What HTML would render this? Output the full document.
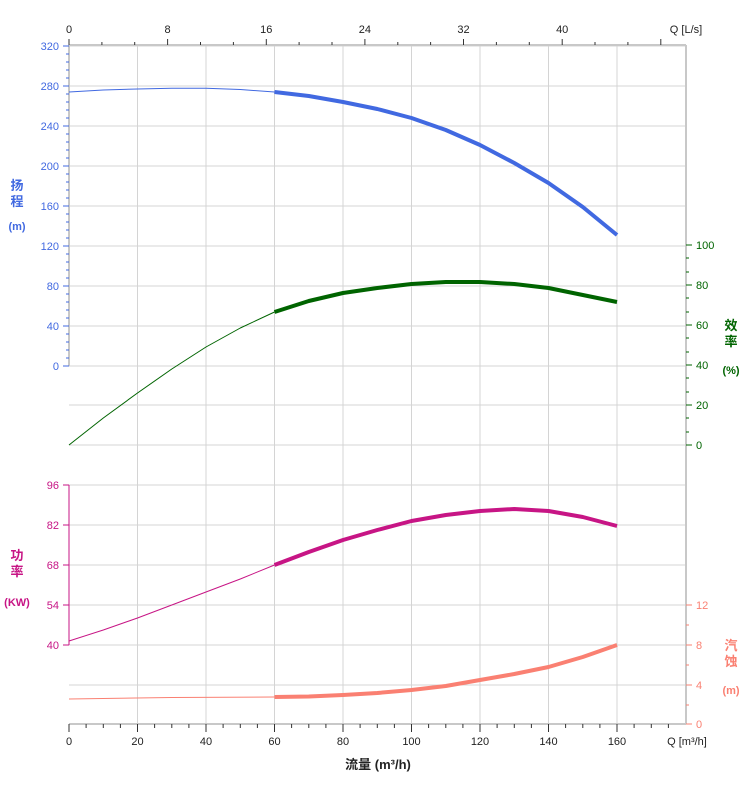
<!DOCTYPE html>
<html><head><meta charset="utf-8"><style>
body{margin:0;background:#fff;width:752px;height:797px;overflow:hidden}
svg{display:block;font-family:"Liberation Sans","Noto Sans CJK SC",sans-serif}
</style></head><body>
<svg width="752" height="797" viewBox="0 0 752 797">
<g stroke="#d4d4d4" stroke-width="1">
<line x1="69" y1="46" x2="686" y2="46"/><line x1="69" y1="86" x2="686" y2="86"/><line x1="69" y1="126" x2="686" y2="126"/><line x1="69" y1="166" x2="686" y2="166"/><line x1="69" y1="206" x2="686" y2="206"/><line x1="69" y1="246" x2="686" y2="246"/><line x1="69" y1="286" x2="686" y2="286"/><line x1="69" y1="326" x2="686" y2="326"/><line x1="69" y1="366" x2="686" y2="366"/><line x1="69" y1="405" x2="686" y2="405"/><line x1="69" y1="445" x2="686" y2="445"/><line x1="69" y1="485" x2="686" y2="485"/><line x1="69" y1="525" x2="686" y2="525"/><line x1="69" y1="565" x2="686" y2="565"/><line x1="69" y1="605" x2="686" y2="605"/><line x1="69" y1="645" x2="686" y2="645"/><line x1="69" y1="685" x2="686" y2="685"/>
<line x1="137.5" y1="46" x2="137.5" y2="724"/><line x1="206" y1="46" x2="206" y2="724"/><line x1="274.5" y1="46" x2="274.5" y2="724"/><line x1="343" y1="46" x2="343" y2="724"/><line x1="411.5" y1="46" x2="411.5" y2="724"/><line x1="480" y1="46" x2="480" y2="724"/><line x1="548.5" y1="46" x2="548.5" y2="724"/><line x1="617" y1="46" x2="617" y2="724"/>
</g>
<g stroke="#c8c8c8" stroke-width="2"><line x1="69" y1="45" x2="686" y2="45"/><line x1="686" y1="45" x2="686" y2="724"/><line x1="69" y1="724" x2="686" y2="724"/></g>
<g stroke="#333" stroke-width="1">
<line x1="69" y1="39" x2="69" y2="45"/><line x1="101.9" y1="42" x2="101.9" y2="45"/><line x1="134.7" y1="42" x2="134.7" y2="45"/><line x1="167.6" y1="39" x2="167.6" y2="45"/><line x1="200.5" y1="42" x2="200.5" y2="45"/><line x1="233.4" y1="42" x2="233.4" y2="45"/><line x1="266.3" y1="39" x2="266.3" y2="45"/><line x1="299.1" y1="42" x2="299.1" y2="45"/><line x1="332" y1="42" x2="332" y2="45"/><line x1="364.9" y1="39" x2="364.9" y2="45"/><line x1="397.8" y1="42" x2="397.8" y2="45"/><line x1="430.6" y1="42" x2="430.6" y2="45"/><line x1="463.5" y1="39" x2="463.5" y2="45"/><line x1="496.4" y1="42" x2="496.4" y2="45"/><line x1="529.3" y1="42" x2="529.3" y2="45"/><line x1="562.2" y1="39" x2="562.2" y2="45"/><line x1="595" y1="42" x2="595" y2="45"/><line x1="627.9" y1="42" x2="627.9" y2="45"/><line x1="660.8" y1="39" x2="660.8" y2="45"/>
</g>
<g font-size="11" fill="#222" text-anchor="middle"><text x="69" y="33">0</text><text x="167.6" y="33">8</text><text x="266.3" y="33">16</text><text x="364.9" y="33">24</text><text x="463.5" y="33">32</text><text x="562.2" y="33">40</text><text x="686" y="33">Q [L/s]</text></g>
<g stroke="#333" stroke-width="1">
<line x1="69" y1="724" x2="69" y2="732"/><line x1="86.1" y1="724" x2="86.1" y2="728"/><line x1="103.3" y1="724" x2="103.3" y2="728"/><line x1="120.4" y1="724" x2="120.4" y2="728"/><line x1="137.5" y1="724" x2="137.5" y2="732"/><line x1="154.6" y1="724" x2="154.6" y2="728"/><line x1="171.8" y1="724" x2="171.8" y2="728"/><line x1="188.9" y1="724" x2="188.9" y2="728"/><line x1="206" y1="724" x2="206" y2="732"/><line x1="223.1" y1="724" x2="223.1" y2="728"/><line x1="240.3" y1="724" x2="240.3" y2="728"/><line x1="257.4" y1="724" x2="257.4" y2="728"/><line x1="274.5" y1="724" x2="274.5" y2="732"/><line x1="291.6" y1="724" x2="291.6" y2="728"/><line x1="308.8" y1="724" x2="308.8" y2="728"/><line x1="325.9" y1="724" x2="325.9" y2="728"/><line x1="343" y1="724" x2="343" y2="732"/><line x1="360.1" y1="724" x2="360.1" y2="728"/><line x1="377.3" y1="724" x2="377.3" y2="728"/><line x1="394.4" y1="724" x2="394.4" y2="728"/><line x1="411.5" y1="724" x2="411.5" y2="732"/><line x1="428.6" y1="724" x2="428.6" y2="728"/><line x1="445.8" y1="724" x2="445.8" y2="728"/><line x1="462.9" y1="724" x2="462.9" y2="728"/><line x1="480" y1="724" x2="480" y2="732"/><line x1="497.1" y1="724" x2="497.1" y2="728"/><line x1="514.3" y1="724" x2="514.3" y2="728"/><line x1="531.4" y1="724" x2="531.4" y2="728"/><line x1="548.5" y1="724" x2="548.5" y2="732"/><line x1="565.6" y1="724" x2="565.6" y2="728"/><line x1="582.8" y1="724" x2="582.8" y2="728"/><line x1="599.9" y1="724" x2="599.9" y2="728"/><line x1="617" y1="724" x2="617" y2="732"/><line x1="634.1" y1="724" x2="634.1" y2="728"/><line x1="651.3" y1="724" x2="651.3" y2="728"/><line x1="668.4" y1="724" x2="668.4" y2="728"/>
</g>
<g font-size="11" fill="#222" text-anchor="middle"><text x="69" y="745">0</text><text x="137.5" y="745">20</text><text x="206" y="745">40</text><text x="274.5" y="745">60</text><text x="343" y="745">80</text><text x="411.5" y="745">100</text><text x="480" y="745">120</text><text x="548.5" y="745">140</text><text x="617" y="745">160</text><text x="687" y="745">Q [m³/h]</text></g>
<text x="378" y="769" font-size="13" font-weight="bold" fill="#222" text-anchor="middle">流量 (m³/h)</text>
<line x1="69" y1="45" x2="69" y2="366" stroke="#c8c8c8" stroke-width="2"/>
<g stroke="#4169e1" stroke-width="1">
<line x1="63" y1="46" x2="69" y2="46"/><line x1="63" y1="86" x2="69" y2="86"/><line x1="63" y1="126" x2="69" y2="126"/><line x1="63" y1="166" x2="69" y2="166"/><line x1="63" y1="206" x2="69" y2="206"/><line x1="63" y1="246" x2="69" y2="246"/><line x1="63" y1="286" x2="69" y2="286"/><line x1="63" y1="326" x2="69" y2="326"/><line x1="63" y1="366" x2="69" y2="366"/>
</g>
<path stroke="#4169e1" stroke-width="1" d="M66,54h3M66,62h3M66,70h3M66,78h3M66,94h3M66,102h3M66,110h3M66,118h3M66,134h3M66,142h3M66,150h3M66,158h3M66,174h3M66,182h3M66,190h3M66,198h3M66,214h3M66,222h3M66,230h3M66,238h3M66,254h3M66,262h3M66,270h3M66,278h3M66,294h3M66,302h3M66,310h3M66,318h3M66,334h3M66,342h3M66,350h3M66,358h3"/>
<g font-size="11" fill="#4169e1" text-anchor="end"><text x="59" y="50">320</text><text x="59" y="90">280</text><text x="59" y="130">240</text><text x="59" y="170">200</text><text x="59" y="210">160</text><text x="59" y="250">120</text><text x="59" y="290">80</text><text x="59" y="330">40</text><text x="59" y="370">0</text></g>
<g font-size="13" font-weight="bold" fill="#4169e1" text-anchor="middle"><text x="17" y="190">扬</text><text x="17" y="206">程</text><text x="17" y="230" font-size="11">(m)</text></g>
<line x1="69" y1="485" x2="69" y2="645" stroke="#c71585"/>
<g stroke="#c71585"><line x1="63" y1="485" x2="69" y2="485"/><line x1="63" y1="525" x2="69" y2="525"/><line x1="63" y1="565" x2="69" y2="565"/><line x1="63" y1="605" x2="69" y2="605"/><line x1="63" y1="645" x2="69" y2="645"/></g>
<g font-size="11" fill="#c71585" text-anchor="end"><text x="59" y="489">96</text><text x="59" y="529">82</text><text x="59" y="569">68</text><text x="59" y="609">54</text><text x="59" y="649">40</text></g>
<g font-size="13" font-weight="bold" fill="#c71585" text-anchor="middle"><text x="17" y="560">功</text><text x="17" y="576">率</text><text x="17" y="606" font-size="11">(KW)</text></g>
<g stroke="#006400"><line x1="686" y1="245" x2="692" y2="245"/><line x1="686" y1="285" x2="692" y2="285"/><line x1="686" y1="325" x2="692" y2="325"/><line x1="686" y1="365" x2="692" y2="365"/><line x1="686" y1="405" x2="692" y2="405"/><line x1="686" y1="445" x2="692" y2="445"/>
<line x1="686" y1="258" x2="689" y2="258"/><line x1="686" y1="272" x2="689" y2="272"/><line x1="686" y1="298" x2="689" y2="298"/><line x1="686" y1="312" x2="689" y2="312"/><line x1="686" y1="338" x2="689" y2="338"/><line x1="686" y1="352" x2="689" y2="352"/><line x1="686" y1="378" x2="689" y2="378"/><line x1="686" y1="392" x2="689" y2="392"/><line x1="686" y1="418" x2="689" y2="418"/><line x1="686" y1="432" x2="689" y2="432"/></g>
<g font-size="11" fill="#006400"><text x="696" y="249">100</text><text x="696" y="289">80</text><text x="696" y="329">60</text><text x="696" y="369">40</text><text x="696" y="409">20</text><text x="696" y="449">0</text></g>
<g font-size="13" font-weight="bold" fill="#006400" text-anchor="middle"><text x="731" y="330">效</text><text x="731" y="346">率</text><text x="731" y="374" font-size="11">(%)</text></g>
<g stroke="#fa8072"><line x1="686" y1="605" x2="692" y2="605"/><line x1="686" y1="645" x2="692" y2="645"/><line x1="686" y1="685" x2="692" y2="685"/><line x1="686" y1="724" x2="692" y2="724"/><line x1="686" y1="625" x2="689" y2="625"/><line x1="686" y1="665" x2="689" y2="665"/><line x1="686" y1="705" x2="689" y2="705"/></g>
<g font-size="11" fill="#fa8072"><text x="696" y="609">12</text><text x="696" y="649">8</text><text x="696" y="689">4</text><text x="696" y="728">0</text></g>
<g font-size="13" font-weight="bold" fill="#fa8072" text-anchor="middle"><text x="731" y="650">汽</text><text x="731" y="666">蚀</text><text x="731" y="694" font-size="11">(m)</text></g>
<g fill="none" stroke-linejoin="round" stroke-linecap="butt">
<polyline stroke="#4169e1" stroke-width="1" points="69,92 103.3,90 137.5,89 171.8,88.3 206,88.3 240.3,89.5 274.5,92"/>
<polyline stroke="#4169e1" stroke-width="4" points="274.5,92 308.8,96 343,102 377.3,109 411.5,118 445.8,130 480,145 514.3,163 548.5,183 582.8,207 617,235"/>
<polyline stroke="#006400" stroke-width="1" points="69,445 103.3,418 137.5,393 171.8,369 206,347 240.3,328 274.5,312"/>
<polyline stroke="#006400" stroke-width="4" points="274.5,312 308.8,301 343,293 377.3,288 411.5,284 445.8,282 480,282 514.3,284 548.5,288 582.8,295 617,302"/>
<polyline stroke="#c71585" stroke-width="1" points="69,641 103.3,630 137.5,618 171.8,605 206,592 240.3,579 274.5,565"/>
<polyline stroke="#c71585" stroke-width="4" points="274.5,565 308.8,552 343,540 377.3,530 411.5,521 445.8,515 480,511 514.3,509 548.5,511 582.8,517 617,526"/>
<polyline stroke="#fa8072" stroke-width="1" points="69,699 171.8,697.5 274.5,697"/>
<polyline stroke="#fa8072" stroke-width="4" points="274.5,697 308.8,696.5 343,695 377.3,693 411.5,690 445.8,686 480,680 514.3,674 548.5,667 582.8,657 617,645"/>
</g>
</svg>
</body></html>
